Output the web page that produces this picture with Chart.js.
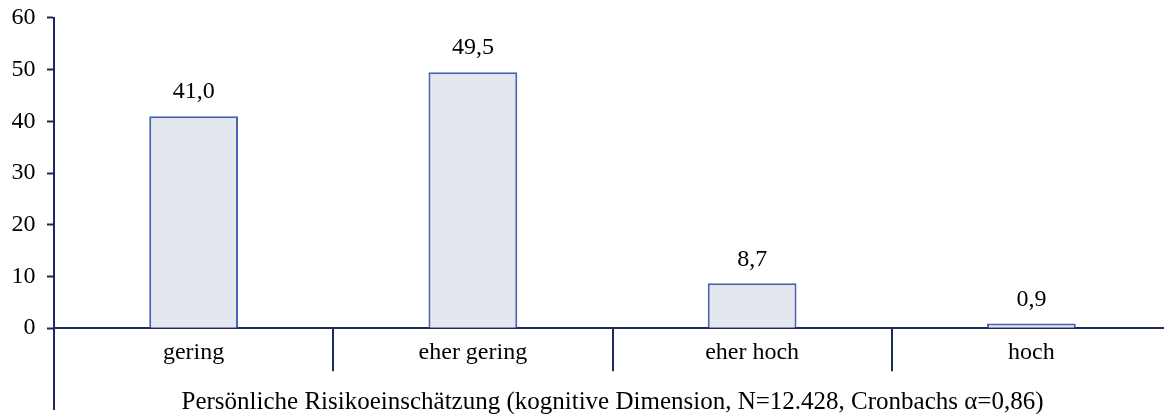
<!DOCTYPE html>
<html>
<head>
<meta charset="utf-8">
<script src="https://cdn.jsdelivr.net/npm/chart.js@4/dist/chart.umd.min.js"></script>
<style>
  html, body { margin: 0; padding: 0; background: #fff; overflow: hidden; }
  #wrap { width: 1164px; height: 414px; overflow: hidden; }
  #inner { width: 1171px; height: 422px; margin-top: -8px; position: relative; }
</style>
</head>
<body>
<div id="wrap"><div id="inner"><canvas id="chart"></canvas></div></div>
<script>
const categories = ['gering', 'eher gering', 'eher hoch', 'hoch'];
const values = [41.0, 49.5, 8.7, 0.9];
const yTicks = [0, 10, 20, 30, 40, 50, 60];
const xTitle = 'Persönliche Risikoeinschätzung (kognitive Dimension, N=12.428, Cronbachs α=0,86)';

const AXIS = '#1f2a5c';
const FONT = "'Liberation Serif', 'Times New Roman', serif";
const FSIZE = 24;

// value labels above bars, separators below axis, y axis extension
const extras = {
  id: 'extras',
  afterDatasetsDraw(chart) {
    const { ctx, chartArea } = chart;
    const x = chart.scales.x;
    const meta = chart.getDatasetMeta(0);
    ctx.save();
    ctx.fillStyle = '#000';
    ctx.font = `${FSIZE}px ${FONT}`;
    ctx.textAlign = 'center';
    ctx.textBaseline = 'bottom';
    meta.data.forEach((bar, i) => {
      ctx.fillText(values[i].toFixed(1).replace('.', ','), bar.x, bar.y - 12);
    });

    ctx.strokeStyle = AXIS;
    ctx.lineWidth = 2;
    ctx.beginPath();
    const step = x.getPixelForValue(1) - x.getPixelForValue(0);
    for (let i = 1; i < categories.length; i++) {
      const px = Math.round(x.getPixelForValue(i) - step / 2);
      ctx.moveTo(px, chartArea.bottom);
      ctx.lineTo(px, chartArea.bottom + 43);
    }
    ctx.moveTo(chartArea.left, chartArea.bottom);
    ctx.lineTo(chartArea.left, chart.height - 4);
    ctx.stroke();
    ctx.restore();
  }
};

new Chart(document.getElementById('chart'), {
  type: 'bar',
  data: {
    labels: categories,
    datasets: [{
      data: values,
      backgroundColor: '#e4e7ed',
      borderColor: '#4662b6',
      borderWidth: 2,
      borderSkipped: 'bottom',
      categoryPercentage: 1,
      barPercentage: 0.318
    }]
  },
  options: {
    responsive: true,
    maintainAspectRatio: false,
    animation: false,
    layout: { padding: { top: 0, right: 0, bottom: -3, left: 0 } },
    plugins: { legend: { display: false }, tooltip: { enabled: false } },
    scales: {
      x: {
        grid: { display: false, drawTicks: false },
        border: { color: AXIS, width: 2 },
        ticks: { color: '#000', font: { family: FONT, size: FSIZE }, padding: 10 },
        title: { display: true, text: xTitle, color: '#000', font: { family: FONT, size: 25 }, padding: { top: 10, bottom: 0 } }
      },
      y: {
        min: 0, max: 60,
        afterBuildTicks: axis => { axis.ticks = yTicks.map(v => ({ value: v })); },
        grid: { drawOnChartArea: false, tickLength: 7, color: AXIS, tickWidth: 2 },
        border: { color: AXIS, width: 2 },
        ticks: { color: '#000', font: { family: FONT, size: FSIZE }, padding: 11.5 }
      }
    }
  },
  plugins: [extras]
});
</script>
</body>
</html>
